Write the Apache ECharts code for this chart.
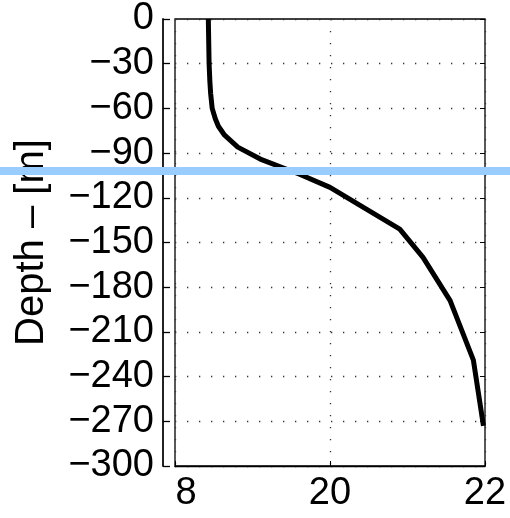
<!DOCTYPE html>
<html>
<head>
<meta charset="utf-8">
<script src="https://cdn.jsdelivr.net/npm/echarts@6/dist/echarts.min.js"></script>
<style>
  html, body { margin: 0; padding: 0; background: #fff; }
  #chart { width: 510px; height: 518px; }
</style>
</head>
<body>
<div id="chart"></div>
<script>
  // temperature profile
  var temp = [18.43, 18.44, 18.45, 18.46, 18.48, 18.52, 18.56, 18.64, 18.81, 19.1, 19.6, 20.0, 20.9, 21.2, 21.55, 21.85, 21.98];
  var depth = [0, -30, -42, -50, -60, -67, -72, -78, -86, -94, -104, -113, -141, -160, -189, -229, -273];
  var xTicks = [18, 20, 22];
  var blueDepth = -102;

  var font = "'Liberation Sans', Arial, Helvetica, sans-serif";
  var minus = function (v) { return String(v).replace('-', '\u2212'); };
  var dotted = { show: true, lineStyle: { color: '#333', width: 1.3, type: [1.3, 10.7] } };

  var chart = echarts.init(document.getElementById('chart'));
  var points = temp.map(function (t, i) { return [t, depth[i]]; });

  chart.setOption({
    animation: false,
    grid: { left: 175, right: 25, top: 19, bottom: 52, show: true, borderColor: '#000', borderWidth: 1.3 },
    xAxis: {
      type: 'value', min: xTicks[0], max: xTicks[xTicks.length - 1], interval: 2,
      axisLine: { show: true, onZero: false, lineStyle: { color: '#000', width: 1.3 } },
      axisTick: { show: true, inside: true, length: 5, lineStyle: { color: '#000' } },
      splitLine: dotted,
      axisLabel: {
        color: '#000', fontSize: 38, fontFamily: font, margin: 9,
        formatter: function (v) { return v === xTicks[0] ? '{s|8}' : String(v); },
        rich: { s: { fontSize: 38, fontFamily: font, color: '#000', padding: [0, 0, 0, 22] } }
      }
    },
    yAxis: [{
      type: 'value', min: -300, max: 0, interval: 30, offset: 12,
      name: 'Depth \u2013 [m]', nameLocation: 'middle', nameGap: 111,
      nameTextStyle: { color: '#000', fontSize: 40, fontFamily: font },
      axisLine: { show: true, onZero: false, lineStyle: { color: '#222', width: 2 } },
      axisTick: { show: true, inside: true, length: 7, lineStyle: { color: '#000', width: 1.3 } },
      splitLine: dotted,
      axisLabel: { color: '#000', fontSize: 38, fontFamily: font, margin: 9, formatter: minus }
    }, {
      type: 'value', min: -300, max: 0, interval: 30, position: 'right',
      axisLine: { show: false },
      axisTick: { show: true, inside: true, length: 5, lineStyle: { color: '#000' } },
      axisLabel: { show: false },
      splitLine: { show: false }
    }],
    series: [{
      type: 'line', data: points, showSymbol: false, yAxisIndex: 0,
      lineStyle: { color: '#000', width: 5 }, z: 3
    }]
  });

  var yPix = chart.convertToPixel({ yAxisIndex: 0 }, blueDepth);
  chart.setOption({
    graphic: [{
      type: 'line', z: 100,
      shape: { x1: 0, y1: yPix, x2: chart.getWidth(), y2: yPix },
      style: { stroke: '#99ccff', lineWidth: 8 }
    }]
  });
</script>
</body>
</html>
